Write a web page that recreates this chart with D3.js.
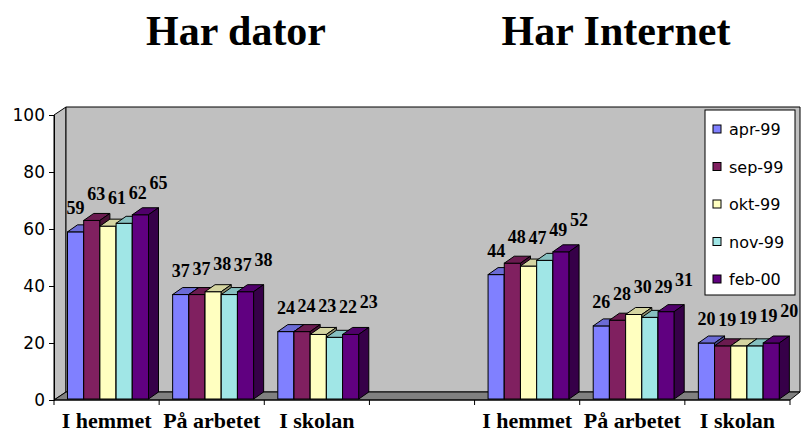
<!DOCTYPE html>
<html>
<head>
<meta charset="utf-8">
<script src="https://cdn.jsdelivr.net/npm/d3@7"></script>
<style>
  body { margin: 0; background: #fff; }
  svg { display: block; }
</style>
</head>
<body>
<div id="chart"></div>
<script>
  // series (legend) and categories
  var series = ["apr-99", "sep-99", "okt-99", "nov-99", "feb-00"];
  var categories = ["I hemmet", "På arbetet", "I skolan", "", "I hemmet", "På arbetet", "I skolan"];
  var titles = ["Har dator", "Har Internet"];
  var yTicks = [0, 20, 40, 60, 80, 100];

  // values per category, one number per series
  var harDator = [
    [59, 63, 61, 62, 65],
    [37, 37, 38, 37, 38],
    [24, 24, 23, 22, 23]
  ];
  var harInternet = [
    [44, 48, 47, 49, 52],
    [26, 28, 30, 29, 31],
    [20, 19, 19, 19, 20]
  ];

  var colors = ["#8080ff", "#802060", "#ffffc0", "#a0e6e6", "#600080"];

  var W = 803, H = 432;
  var svg = d3.select("#chart").append("svg")
    .attr("width", W).attr("height", H);

  // one row per category, the empty slot has no bars
  var rows = harDator.concat([null], harInternet);

  var x = d3.scaleBand()
    .domain(d3.range(categories.length))
    .range([54, 790]);

  var xs = d3.scaleBand()
    .domain(series)
    .range([13.5, 94.5]);

  var y = d3.scaleLinear()
    .domain([0, 100])
    .range([400, 115]);

  // depth of walls and bars
  var wdx = 12, wdy = -8;
  var bdx = 10, bdy = -7;

  var x0 = x.range()[0], x1 = x.range()[1];
  var y0 = y(0), yTop = y(100);

  // side wall
  svg.append("polygon")
    .attr("points", [[x0, yTop], [x0 + wdx, yTop + wdy], [x0 + wdx, y0 + wdy], [x0, y0]].join(" "))
    .attr("fill", "#c0c0c0").attr("stroke", "#000").attr("stroke-width", 1);

  // back wall
  svg.append("polygon")
    .attr("points", [[x0 + wdx, yTop + wdy], [x1 + wdx - 2, yTop + wdy], [x1 + wdx - 2, y0 + wdy], [x0 + wdx, y0 + wdy]].join(" "))
    .attr("fill", "#c0c0c0").attr("stroke", "#000").attr("stroke-width", 1);

  // floor
  svg.append("polygon")
    .attr("points", [[x0, y0], [x0 + wdx, y0 + wdy], [x1 + wdx - 2, y0 + wdy], [x1, y0]].join(" "))
    .attr("fill", "#808080").attr("stroke", "#000").attr("stroke-width", 1);

  // bars
  var bars = [];
  rows.forEach(function(r, ci) {
    if (!r) return;
    r.forEach(function(v, si) {
      bars.push({ ci: ci, si: si, value: v });
    });
  });

  var barG = svg.append("g");
  bars.forEach(function(d) {
    var bx = x(d.ci) + xs(series[d.si]);
    var bw = xs.bandwidth();
    var top = y(d.value), bot = y(0) - 1;
    var c = d3.color(colors[d.si]);
    var g = barG.append("g");
    g.append("rect")
      .attr("x", bx).attr("y", top)
      .attr("width", bw).attr("height", bot - top)
      .attr("fill", c).attr("stroke", "#000").attr("stroke-width", 1);
    g.append("polygon")
      .attr("points", [[bx, top], [bx + bdx, top + bdy], [bx + bw + bdx, top + bdy], [bx + bw, top]].join(" "))
      .attr("fill", c.darker(0.5)).attr("stroke", "#000").attr("stroke-width", 1);
    g.append("polygon")
      .attr("points", [[bx + bw, top], [bx + bw + bdx, top + bdy], [bx + bw + bdx, bot + bdy], [bx + bw, bot]].join(" "))
      .attr("fill", c.darker(1.6)).attr("stroke", "#000").attr("stroke-width", 1);
  });

  // data labels
  svg.append("g").selectAll("text")
    .data(bars)
    .join("text")
      .attr("x", function(d) { return x(d.ci) + xs(series[d.si]) + xs.bandwidth() / 2 + 4.5 * d.si; })
      .attr("y", function(d) { return y(d.value) - 18 - 2 * d.si; })
      .attr("text-anchor", "middle")
      .attr("font-family", "'Liberation Serif', 'Times New Roman', serif")
      .attr("font-weight", "bold")
      .attr("font-size", 18)
      .text(function(d) { return d.value; });

  // y axis
  var yAxis = svg.append("g")
    .attr("transform", "translate(" + x0 + ",0)")
    .call(d3.axisLeft(y).tickValues(yTicks).tickSize(5).tickPadding(4));
  yAxis.select(".domain").attr("stroke", "#000");
  yAxis.selectAll("text")
    .attr("font-family", "'DejaVu Sans', sans-serif")
    .attr("font-size", 17)
    .attr("fill", "#000");

  // x axis: labels at band centres, tick marks at band edges
  var xAxis = svg.append("g")
    .attr("transform", "translate(0," + y0 + ")")
    .call(d3.axisBottom(x).tickSize(0).tickPadding(12).tickFormat(function(i) { return categories[i]; }));
  xAxis.select(".domain").remove();
  xAxis.selectAll("text")
    .attr("font-family", "'Liberation Serif', 'Times New Roman', serif")
    .attr("font-weight", "bold")
    .attr("font-size", 22)
    .attr("fill", "#000");

  svg.append("line")
    .attr("x1", x0).attr("x2", x1).attr("y1", y0).attr("y2", y0)
    .attr("stroke", "#000");
  svg.append("g").selectAll("line")
    .data(d3.range(categories.length + 1))
    .join("line")
      .attr("x1", function(i) { return x0 + i * x.step(); })
      .attr("x2", function(i) { return x0 + i * x.step(); })
      .attr("y1", y0).attr("y2", y0 + 5)
      .attr("stroke", "#000");

  // titles over each half
  svg.append("g").selectAll("text")
    .data(titles)
    .join("text")
      .attr("x", function(d, i) { return i === 0 ? 236 : 616; })
      .attr("y", 45)
      .attr("text-anchor", "middle")
      .attr("font-family", "'Liberation Serif', 'Times New Roman', serif")
      .attr("font-weight", "bold")
      .attr("font-size", 42)
      .text(function(d) { return d; });

  // legend
  var legend = svg.append("g").attr("transform", "translate(705,110)");
  legend.append("rect")
    .attr("width", 90).attr("height", 185)
    .attr("fill", "#fff").attr("stroke", "#000");
  var item = legend.selectAll("g.item")
    .data(series)
    .join("g")
      .attr("class", "item")
      .attr("transform", function(d, i) { return "translate(8," + (19 + i * 37.5) + ")"; });
  item.append("rect")
    .attr("x", 0).attr("y", -4).attr("width", 8).attr("height", 8)
    .attr("fill", function(d, i) { return colors[i]; })
    .attr("stroke", "#000");
  item.append("text")
    .attr("x", 16).attr("y", 6)
    .attr("font-family", "'DejaVu Sans', sans-serif")
    .attr("font-size", 16)
    .text(function(d) { return d; });
</script>
</body>
</html>
